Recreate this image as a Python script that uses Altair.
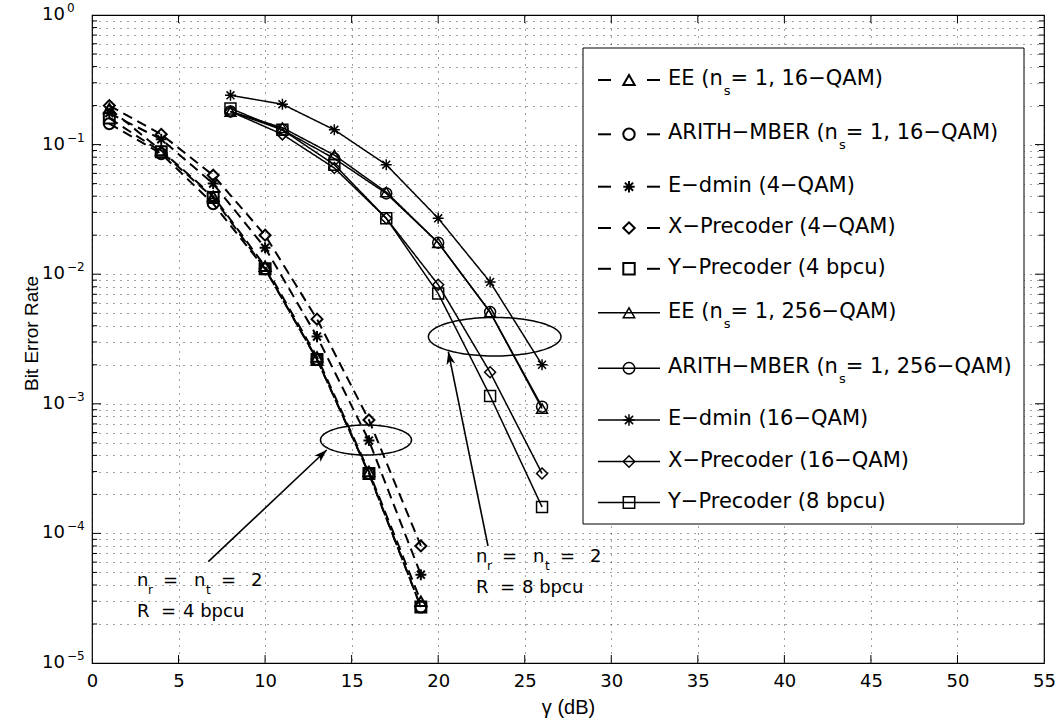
import math
import altair as alt
import numpy as np
import pandas as pd

# ---------------- layout constants ----------------
W, H = 952, 648          # plot area
PAD_L, PAD_T = 92, 15    # padding left / top (absolute pixel of plot origin)
X_MAX = 55
PX_PER_X = W / X_MAX
PX_PER_DEC = H / 5.0
FONT = "DejaVu Sans"

# ---------------- data ----------------
snr_4bpcu = [1, 4, 7, 10, 13, 16, 19]
snr_8bpcu = [8, 11, 14, 17, 20, 23, 26]

ber_ee_16qam = [0.19, 0.090, 0.040, 0.0115, 0.0023, 0.00030, 0.000030]
ber_arith_16qam = [0.145, 0.085, 0.035, 0.011, 0.0022, 0.00029, 0.000027]
ber_edmin_4qam = [0.175, 0.110, 0.050, 0.016, 0.0033, 0.00052, 0.000048]
ber_xprec_4qam = [0.20, 0.120, 0.058, 0.020, 0.0045, 0.00075, 0.000080]
ber_yprec_4bpcu = [0.16, 0.088, 0.039, 0.011, 0.0022, 0.00029, 0.000027]

ber_ee_256qam = [0.18, 0.135, 0.083, 0.043, 0.0175, 0.0051, 0.00092]
ber_arith_256qam = [0.18, 0.130, 0.078, 0.042, 0.0175, 0.0051, 0.00095]
ber_edmin_16qam = [0.24, 0.205, 0.130, 0.070, 0.027, 0.0087, 0.0020]
ber_xprec_16qam = [0.18, 0.120, 0.066, 0.027, 0.0083, 0.00175, 0.00029]
ber_yprec_8bpcu = [0.19, 0.130, 0.070, 0.027, 0.0071, 0.00115, 0.00016]

series_names = ["EE 16", "ARITH 16", "Edmin 4", "X 4", "Y 4",
                "EE 256", "ARITH 256", "Edmin 16", "X 16", "Y 8"]
series_x = [snr_4bpcu] * 5 + [snr_8bpcu] * 5
series_y = [ber_ee_16qam, ber_arith_16qam, ber_edmin_4qam, ber_xprec_4qam, ber_yprec_4bpcu,
            ber_ee_256qam, ber_arith_256qam, ber_edmin_16qam, ber_xprec_16qam, ber_yprec_8bpcu]
series_marker = ["triangle", "circle", "star", "diamond", "square"] * 2
series_style = ["dashed"] * 5 + ["solid"] * 5

legend_texts = [
    ["EE (n", "s", " = 1, 16\u2212QAM)"],
    ["ARITH\u2212MBER (n", "s", " = 1, 16\u2212QAM)"],
    ["E\u2212dmin (4\u2212QAM)"],
    ["X\u2212Precoder (4\u2212QAM)"],
    ["Y\u2212Precoder (4 bpcu)"],
    ["EE (n", "s", " = 1, 256\u2212QAM)"],
    ["ARITH\u2212MBER (n", "s", " = 1, 256\u2212QAM)"],
    ["E\u2212dmin (16\u2212QAM)"],
    ["X\u2212Precoder (16\u2212QAM)"],
    ["Y\u2212Precoder (8 bpcu)"],
]

x_tick_values = list(range(0, 56, 5))
y_major = [1.0, 1e-1, 1e-2, 1e-3, 1e-4, 1e-5]
y_exponents = ["0", "\u22121", "\u22122", "\u22123", "\u22124", "\u22125"]
y_minor = [m * 10.0 ** k for k in range(-5, 0) for m in range(2, 10)]
y_grid = sorted(y_minor + y_major)

rows = []
for name, xs, ys, mk, st in zip(series_names, series_x, series_y, series_marker, series_style):
    for a, b in zip(xs, ys):
        rows.append({"series": name, "snr": a, "ber": b, "marker": mk, "style": st})
df = pd.DataFrame(rows)

STAR = "M-1,0L1,0M0,-1L0,1M-0.72,-0.72L0.72,0.72M-0.72,0.72L0.72,-0.72"
SHAPES = {"triangle": "triangle-up", "circle": "circle", "star": STAR,
          "diamond": "diamond", "square": "square"}
ARROW = "M0,0L-0.55,1.6L0,1.15L0.55,1.6Z"

# ---------------- scales / axes ----------------
xscale = alt.Scale(domain=[0, X_MAX], nice=False, zero=False)
yscale = alt.Scale(type="log", domain=[1e-5, 1], nice=False)

GRID = dict(grid=True, gridDash=[1, 6], gridColor="#000", gridOpacity=0.75, gridWidth=1)

x_axis = alt.Axis(values=x_tick_values, **GRID, ticks=False, domain=False,
                  labelFont=FONT, labelFontSize=18, labelColor="#000", labelPadding=9,
                  labelFlush=False, labelOverlap=False,
                  title="\u03b3 (dB)", titleFont="Liberation Sans", titleFontSize=20,
                  titleFontWeight="normal", titleColor="#000",
                  titleBaseline="alphabetic", titleX=W / 2, titleY=50, titleAlign="center")
y_axis = alt.Axis(values=y_grid, **GRID, ticks=False, domain=False, labels=False,
                  title="Bit Error Rate",
                  titleFont="Liberation Sans Narrow, Arial Narrow, Liberation Sans",
                  titleFontSize=19, titleFontWeight="normal", titleColor="#000",
                  titleAngle=270, titleX=-61, titleY=318, titleBaseline="middle",
                  titleAlign="center")

X = alt.X("snr:Q", scale=xscale, axis=x_axis)
Y = alt.Y("ber:Q", scale=yscale, axis=y_axis)

shape_scale = alt.Scale(domain=list(SHAPES.keys()), range=list(SHAPES.values()))
style_dom = ["dashed", "solid"]

lines = alt.Chart(df).mark_line(color="black").encode(
    x=X, y=Y, detail="series:N",
    strokeDash=alt.StrokeDash("style:N", scale=alt.Scale(domain=style_dom,
                              range=[[10, 6], [1, 0]]), legend=None),
    strokeWidth=alt.StrokeWidth("style:N", scale=alt.Scale(domain=style_dom,
                                range=[2.0, 1.5]), legend=None),
)
points = alt.Chart(df).mark_point(filled=False, color="black", size=120, opacity=1).encode(
    x=X, y=Y,
    shape=alt.Shape("marker:N", scale=shape_scale, legend=None),
    strokeWidth=alt.StrokeWidth("style:N", scale=alt.Scale(domain=style_dom,
                                range=[2.0, 1.5]), legend=None),
)

# ---------------- inner ticks ----------------
xt = pd.DataFrame({"snr": x_tick_values[1:-1]})
ytm = pd.DataFrame({"ber": y_major[1:-1]})
ytn = pd.DataFrame({"ber": y_minor})
tick_layers = [
    alt.Chart(xt).mark_rule(color="black").encode(x=X, y=alt.value(H), y2=alt.value(H - 8)),
    alt.Chart(xt).mark_rule(color="black").encode(x=X, y=alt.value(0), y2=alt.value(8)),
    alt.Chart(ytm).mark_rule(color="black").encode(y=Y, x=alt.value(0), x2=alt.value(9)),
    alt.Chart(ytm).mark_rule(color="black").encode(y=Y, x=alt.value(W), x2=alt.value(W - 9)),
    alt.Chart(ytn).mark_rule(color="black").encode(y=Y, x=alt.value(0), x2=alt.value(5)),
    alt.Chart(ytn).mark_rule(color="black").encode(y=Y, x=alt.value(W), x2=alt.value(W - 5)),
]

# ---------------- y tick labels (10^k) ----------------
ylab = pd.DataFrame({"ber": y_major, "exp": y_exponents})
ylabels = [
    alt.Chart(ylab).mark_text(text="10", align="right", baseline="middle", font=FONT,
                              fontSize=18, color="black").encode(y=Y, x=alt.value(-27)),
    alt.Chart(ylab).mark_text(align="left", baseline="alphabetic", font=FONT,
                              fontSize=12, color="black", dy=-3).encode(
        y=Y, x=alt.value(-25), text="exp:N"),
]

# ---------------- annotations ----------------
def to_snr(px):
    return (px - PAD_L) / PX_PER_X

def to_log(py):
    return -(py - PAD_T) / PX_PER_DEC

ellipses = [  # (center px x, center px y, rx px, ry px)
    (366.0, 440.0, 45.5, 15.0),
    (494.7, 336.7, 66.3, 19.3),
]
erows = []
t = np.linspace(0, 2 * np.pi, 121)
for i, (cx, cy, rx, ry) in enumerate(ellipses):
    for j, tt in enumerate(t):
        erows.append({"id": i, "k": j,
                      "snr": to_snr(cx) + rx / PX_PER_X * math.cos(tt),
                      "ber": 10 ** (to_log(cy) + ry / PX_PER_DEC * math.sin(tt))})
edf = pd.DataFrame(erows)
ell = alt.Chart(edf).mark_line(color="black", strokeWidth=1.5).encode(
    x=X, y=Y, detail="id:N", order="k:Q")

arrows_px = [  # base (x,y) -> tip (x,y)
    ((208.3, 561.7), (326.7, 450.0)),
    ((488.0, 546.0), (448.3, 351.7)),
]
arows = []
for (bx, by), (tx, ty) in arrows_px:
    ang = math.degrees(math.atan2(tx - bx, -(ty - by))) % 360
    arows.append({"snr": to_snr(bx), "ber": 10 ** to_log(by),
                  "snr2": to_snr(tx), "ber2": 10 ** to_log(ty),
                  "tsnr": to_snr(tx), "tber": 10 ** to_log(ty), "ang": ang})
adf = pd.DataFrame(arows)
arrow_shaft = alt.Chart(adf).mark_rule(color="black", strokeWidth=1.6).encode(
    x=X, y=Y, x2="snr2:Q", y2="ber2:Q")
arrow_head = alt.Chart(adf).mark_point(shape=ARROW, filled=True, color="black",
                                       size=262, opacity=1).encode(
    x=alt.X("tsnr:Q", scale=xscale, axis=x_axis),
    y=alt.Y("tber:Q", scale=yscale, axis=y_axis),
    angle=alt.Angle("ang:Q", scale=None))

annot_anchor_px = [(137.0, 586.0), (476.0, 562.0)]
annot_rate = ["4", "8"]
ann_layers = []
for (ax, ay), rate in zip(annot_anchor_px, annot_rate):
    adf1 = pd.DataFrame({"snr": [to_snr(ax)], "ber": [10 ** to_log(ay)]})
    pieces = [("n", 0, 0, 18), ("r", 11, 8, 12), ("=", 26, 0, 18), ("n", 57, 0, 18),
              ("t", 69, 8, 12), ("=", 84, 0, 18), ("2", 114, 0, 18),
              ("R", 0, 31, 18), ("=", 24, 31, 18), (rate + " bpcu", 46, 31, 18)]
    for txt, dx, dy, fs in pieces:
        ann_layers.append(alt.Chart(adf1).mark_text(
            text=txt, align="left", baseline="alphabetic", font=FONT, fontSize=fs,
            color="black", dx=dx, dy=dy).encode(x=X, y=Y))

# ---------------- legend (drawn inside plot) ----------------
DV = {" ": 318, "(": 390, ")": 390, ",": 318, "=": 838, "\u2212": 838,
      "A": 684, "B": 686, "E": 632, "H": 752, "I": 295, "M": 863, "R": 695, "T": 611,
      "n": 634, "s": 521}
for d in "0123456789":
    DV[d] = 636

def tw(s, fs):
    return sum(DV.get(c, 600) for c in s) * fs / 1000.0

one = pd.DataFrame({"k": [0]})
LEG_FS = 21
leg_box = (583, 48, 1024, 524)
leg_row_y = [77.5, 131.8, 184.2, 225.5, 266.3, 310.3, 365.8, 417.5, 459.0, 500.0]
LINE_X0, LINE_X1, MARK_X, TEXT_X = 598, 660, 629, 668

legend_layers = [alt.Chart(one).mark_rect(fill="white", stroke="black", strokeWidth=1).encode(
    x=alt.value(leg_box[0] - PAD_L), x2=alt.value(leg_box[2] - PAD_L),
    y=alt.value(leg_box[1] - PAD_T), y2=alt.value(leg_box[3] - PAD_T))]

for txts, mk, st, ry in zip(legend_texts, series_marker, series_style, leg_row_y):
    cy = ry - PAD_T
    my = cy + 2.5
    sw = 2.0 if st == "dashed" else 1.5
    if st == "dashed":
        segs = [(LINE_X0, LINE_X0 + 13), (LINE_X1 - 13, LINE_X1)]
    else:
        segs = [(LINE_X0, LINE_X1)]
    for a, b in segs:
        legend_layers.append(alt.Chart(one).mark_rule(color="black", strokeWidth=sw).encode(
            x=alt.value(a - PAD_L), x2=alt.value(b - PAD_L), y=alt.value(my)))
    legend_layers.append(alt.Chart(one).mark_point(
        shape=SHAPES[mk], filled=False, color="black", size=130, strokeWidth=sw,
        opacity=1).encode(x=alt.value(MARK_X - PAD_L), y=alt.value(my)))
    base = cy + 0.36 * LEG_FS
    xpos = TEXT_X - PAD_L
    legend_layers.append(alt.Chart(one).mark_text(
        text=txts[0], align="left", baseline="alphabetic", font=FONT, fontSize=LEG_FS,
        color="black").encode(x=alt.value(xpos), y=alt.value(base)))
    if len(txts) == 3:
        sx = xpos + tw(txts[0], LEG_FS) + 1
        legend_layers.append(alt.Chart(one).mark_text(
            text=txts[1], align="left", baseline="alphabetic", font=FONT, fontSize=13,
            color="black").encode(x=alt.value(sx), y=alt.value(base + 10)))
        px3 = sx + tw(txts[1], 13)
        legend_layers.append(alt.Chart(one).mark_text(
            text=txts[2], align="left", baseline="alphabetic", font=FONT, fontSize=LEG_FS,
            color="black").encode(x=alt.value(px3), y=alt.value(base)))

chart = alt.layer(
    lines, points, *tick_layers, *ylabels, ell, arrow_shaft, arrow_head,
    *ann_layers, *legend_layers
).properties(
    width=W, height=H,
    autosize=alt.AutoSizeParams(type="none"),
    padding={"left": PAD_L, "top": PAD_T, "right": 1061 - PAD_L - W, "bottom": 725 - PAD_T - H},
    background="white",
).configure_view(stroke="black", strokeWidth=1.2)

chart.save("out.html", embed_options={"renderer": "svg", "actions": False})
